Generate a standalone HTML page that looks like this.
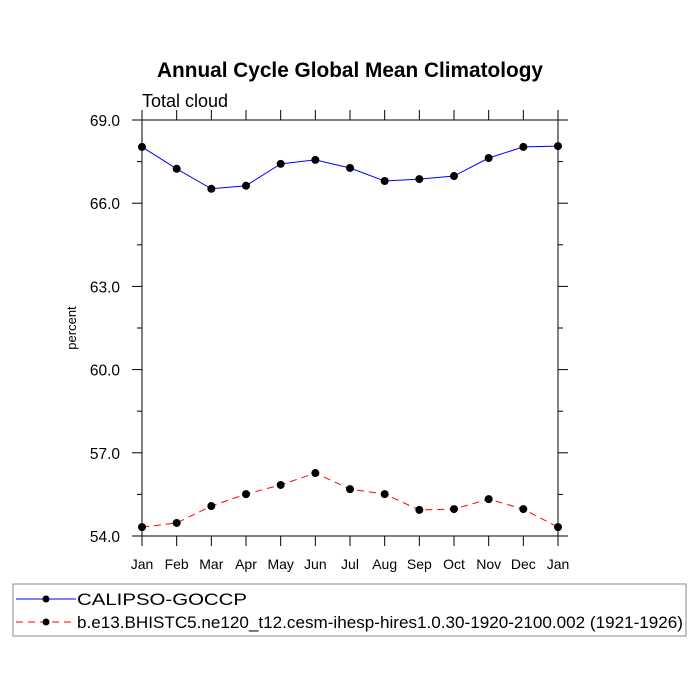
<!DOCTYPE html>
<html><head><meta charset="utf-8"><style>body{margin:0;background:#fff}svg{display:block;font-family:"Liberation Sans",sans-serif}</style></head>
<body>
<svg id="chart" width="700" height="700">
<text x="350" y="77" text-anchor="middle" font-size="20.8" font-weight="bold">Annual Cycle Global Mean Climatology</text>
<text x="142" y="107" font-size="18">Total cloud</text>
<text transform="translate(76,328) rotate(-90)" text-anchor="middle" font-size="13">percent</text>
<g id="axes"></g><g id="series"></g>
<rect x="13" y="584" width="673" height="52" fill="none" stroke="#888"/>
<g>
<line x1="16" y1="599" x2="76" y2="599" stroke="#00f"/><circle cx="46" cy="599" r="3.5"/>
<text x="77" y="605" font-size="17" textLength="170" lengthAdjust="spacingAndGlyphs">CALIPSO-GOCCP</text></g>
<g>
<line x1="16" y1="622" x2="76" y2="622" stroke="#f00" stroke-dasharray="7,5"/><circle cx="46" cy="622" r="3.5"/>
<text x="77" y="628" font-size="17" textLength="606" lengthAdjust="spacingAndGlyphs">b.e13.BHISTC5.ne120_t12.cesm-ihesp-hires1.0.30-1920-2100.002 (1921-1926)</text></g>
</svg>
<script>
const months=["Jan","Feb","Mar","Apr","May","Jun","Jul","Aug","Sep","Oct","Nov","Dec","Jan"];
const obsValues=[68.03,67.24,66.52,66.63,67.42,67.56,67.27,66.80,66.87,66.98,67.63,68.03,68.06];
const modelValues=[54.32,54.47,55.08,55.51,55.84,56.27,55.69,55.51,54.94,54.97,55.33,54.97,54.32];
const yTicks=[54,57,60,63,66,69];
const NS="http://www.w3.org/2000/svg";
const X0=142,X1=558,Y0=536,Y1=120,ymin=54,ymax=69;
const xs=i=>X0+(X1-X0)*i/(months.length-1);
const ys=v=>Y0-(v-ymin)/(ymax-ymin)*(Y0-Y1);
function mk(t,a,p){const e=document.createElementNS(NS,t);for(const k in a)e.setAttribute(k,a[k]);p.appendChild(e);return e;}
const ax=document.getElementById('axes');
const fr=mk('rect',{x:X0,y:Y1,width:X1-X0,height:Y0-Y1,fill:'none',stroke:'#000'},ax);


months.forEach((m,i)=>{const x=xs(i);
mk('line',{x1:x,y1:Y0,x2:x,y2:Y0+10,stroke:'#000'},ax);
mk('line',{x1:x,y1:Y1,x2:x,y2:Y1-10,stroke:'#000'},ax);
const t=mk('text',{x:x,y:Y0+33,'text-anchor':'middle','font-size':14},ax);t.textContent=m;

});
yTicks.forEach((v,i)=>{const y=ys(v);
mk('line',{x1:X0-10,y1:y,x2:X0,y2:y,stroke:'#000'},ax);
mk('line',{x1:X1,y1:y,x2:X1+10,y2:y,stroke:'#000'},ax);
if(i<yTicks.length-1){const ym=ys(v+1.5);
mk('line',{x1:X0-5,y1:ym,x2:X0,y2:ym,stroke:'#000'},ax);
mk('line',{x1:X1,y1:ym,x2:X1+5,y2:ym,stroke:'#000'},ax);}
const t=mk('text',{x:X0-22,y:y+6,'text-anchor':'end','font-size':15.5},ax);t.textContent=v.toFixed(1);

});
const sg=document.getElementById('series');
function series(vals,color,dash,name){
const p=mk('polyline',{points:vals.map((v,i)=>xs(i)+','+ys(v)).join(' '),fill:'none',stroke:color,'stroke-dasharray':dash},sg);


vals.forEach((v,i)=>{const c=mk('circle',{cx:xs(i),cy:ys(v),r:4},sg);

});}
series(obsValues,'#00f','none','calipso');
series(modelValues,'#f00','7,5','model');
</script>
</body></html>
